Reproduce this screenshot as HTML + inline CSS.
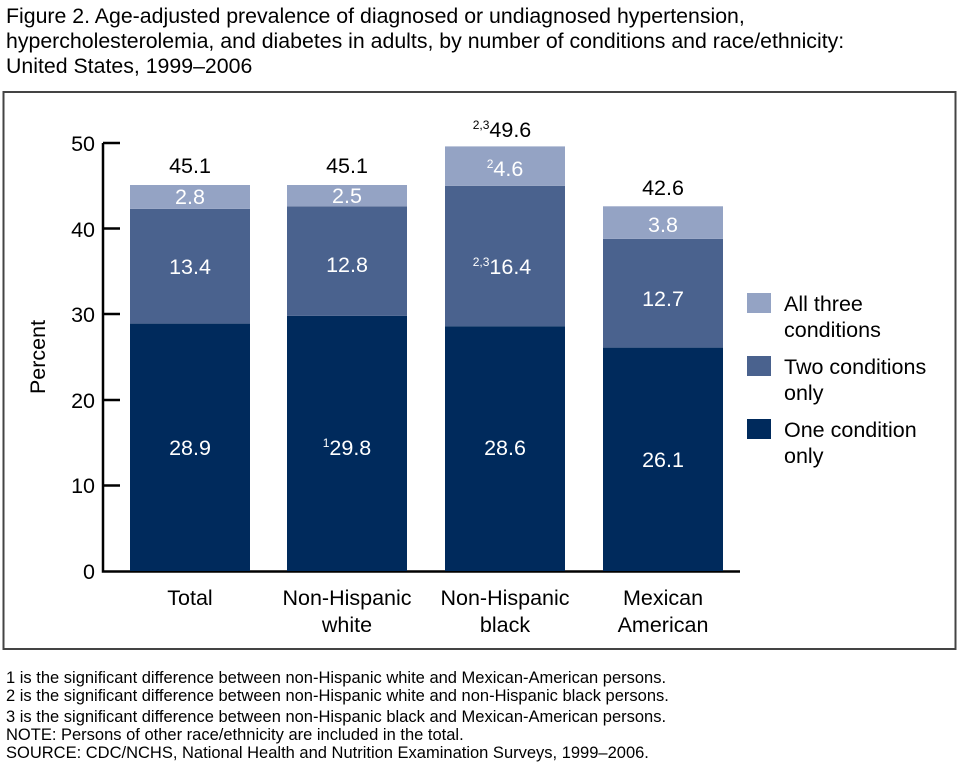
<!DOCTYPE html>
<html><head><meta charset="utf-8"><style>
body{margin:0;background:#fff;}
svg{display:block;font-family:"Liberation Sans",Arial,sans-serif;}
</style></head><body>
<svg width="960" height="768" viewBox="0 0 960 768">
<text x="6" y="23" font-size="21.3">Figure 2. Age-adjusted prevalence of diagnosed or undiagnosed hypertension,</text>
<text x="6" y="48" font-size="21.3">hypercholesterolemia, and diabetes in adults, by number of conditions and race/ethnicity:</text>
<text x="6" y="73" font-size="21.3">United States, 1999–2006</text>
<rect x="3.5" y="92" width="952" height="557" fill="none" stroke="#444" stroke-width="2"/>
<g stroke="#000" stroke-width="2.5" fill="none">
<path d="M103 143 V571.5 H740"/>
<path d="M103 143H120M103 228.5H120M103 314H120M103 400H120M103 485.5H120"/>
</g>
<g font-size="21.5" text-anchor="end">
<text x="95" y="151">50</text><text x="95" y="237">40</text><text x="95" y="322">30</text><text x="95" y="408">20</text><text x="95" y="493">10</text><text x="95" y="579">0</text>
</g>
<text transform="translate(45,357) rotate(-90)" font-size="21.5" text-anchor="middle">Percent</text>
<g>
<rect x="130" y="323.6" width="120" height="247.4" fill="#002a5c"/>
<rect x="130" y="208.9" width="120" height="114.7" fill="#4a628e"/>
<rect x="130" y="185" width="120" height="23.9" fill="#94a3c4"/>
<rect x="287" y="315.9" width="120" height="255.1" fill="#002a5c"/>
<rect x="287" y="206.4" width="120" height="109.5" fill="#4a628e"/>
<rect x="287" y="185" width="120" height="21.4" fill="#94a3c4"/>
<rect x="445" y="326.2" width="120" height="244.8" fill="#002a5c"/>
<rect x="445" y="185.8" width="120" height="140.4" fill="#4a628e"/>
<rect x="445" y="146.4" width="120" height="39.4" fill="#94a3c4"/>
<rect x="603" y="347.6" width="120" height="223.4" fill="#002a5c"/>
<rect x="603" y="238.9" width="120" height="108.7" fill="#4a628e"/>
<rect x="603" y="206.3" width="120" height="32.6" fill="#94a3c4"/>
</g>
<g font-size="21.5" text-anchor="middle" fill="#fff">
<text x="190" y="455">28.9</text><text x="190" y="274">13.4</text><text x="190" y="204">2.8</text>
<text x="347" y="455"><tspan font-size="12" dy="-8">1</tspan><tspan dy="8">29.8</tspan></text><text x="347" y="272">12.8</text><text x="347" y="203">2.5</text>
<text x="505" y="455">28.6</text><text x="502" y="274"><tspan font-size="12" dy="-8">2,3</tspan><tspan dy="8">16.4</tspan></text><text x="505" y="176"><tspan font-size="12" dy="-8">2</tspan><tspan dy="8">4.6</tspan></text>
<text x="663" y="467">26.1</text><text x="663" y="306">12.7</text><text x="663" y="232">3.8</text>
</g>
<g font-size="21.5" text-anchor="middle">
<text x="190" y="173">45.1</text><text x="347" y="173">45.1</text>
<text x="502" y="137"><tspan font-size="12" dy="-8">2,3</tspan><tspan dy="8">49.6</tspan></text>
<text x="663" y="195">42.6</text>
<text x="190" y="605">Total</text>
<text x="347" y="605">Non-Hispanic</text><text x="347" y="632">white</text>
<text x="505" y="605">Non-Hispanic</text><text x="505" y="632">black</text>
<text x="663" y="605">Mexican</text><text x="663" y="632">American</text>
</g>
<rect x="747" y="293" width="24" height="20" fill="#94a3c4"/>
<rect x="747" y="356" width="24" height="20" fill="#4a628e"/>
<rect x="747" y="419" width="24" height="20" fill="#002a5c"/>
<g font-size="21.5">
<text x="784" y="311">All three</text><text x="784" y="337">conditions</text>
<text x="784" y="374">Two conditions</text><text x="784" y="400">only</text>
<text x="784" y="437">One condition</text><text x="784" y="463">only</text>
</g>
<g font-size="16.5">
<text x="6" y="683">1 is the significant difference between non-Hispanic white and Mexican-American persons.</text>
<text x="6" y="701">2 is the significant difference between non-Hispanic white and non-Hispanic black persons.</text>
<text x="6" y="722">3 is the significant difference between non-Hispanic black and Mexican-American persons.</text>
<text x="6" y="740">NOTE: Persons of other race/ethnicity are included in the total.</text>
<text x="6" y="758">SOURCE: CDC/NCHS, National Health and Nutrition Examination Surveys, 1999–2006.</text>
</g>
</svg>
</body></html>
